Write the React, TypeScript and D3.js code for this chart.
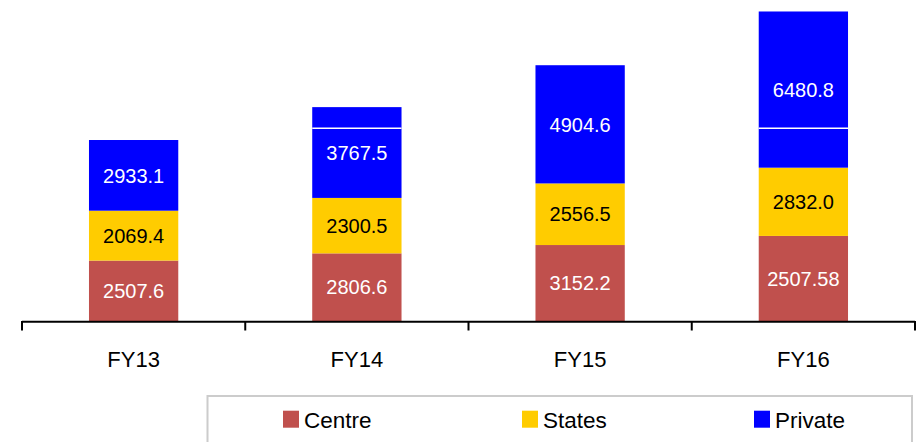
import React from "react";
import * as d3 from "d3";

const categories = ["FY13", "FY14", "FY15", "FY16"];
const centreValues = [2507.6, 2806.6, 3152.2, 3530];
const centreLabels = ["2507.6", "2806.6", "3152.2", "2507.58"];
const statesValues = [2069.4, 2300.5, 2556.5, 2832.0];
const statesLabels = ["2069.4", "2300.5", "2556.5", "2832.0"];
const privateValues = [2933.1, 3767.5, 4904.6, 6480.8];
const privateLabels = ["2933.1", "3767.5", "4904.6", "6480.8"];
// white divider line drawn inside some bars in the original
const dividerValues: (number | null)[] = [null, 8000, null, 8000];

const seriesNames = ["Centre", "States", "Private"];
const seriesColors = ["#C0504D", "#FFCC00", "#0000FF"];
const labelColors = ["#FFFFFF", "#000000", "#FFFFFF"];

const W = 917;
const H = 442;

export default function App() {
  const x = d3
    .scaleBand<string>()
    .domain(categories)
    .range([22, 915])
    .paddingInner(0.6)
    .paddingOuter(0.3);
  const y = d3.scaleLinear().domain([0, 13000]).range([321, 321 - 13000 * 0.0241]);

  const rows = categories.map((c, i) => ({
    cat: c,
    Centre: centreValues[i],
    States: statesValues[i],
    Private: privateValues[i],
  }));
  const stack = d3.stack<any>().keys(seriesNames)(rows);
  const labels = [centreLabels, statesLabels, privateLabels];

  const step = x.step();
  const axisStart = 22;
  const ticks = d3.range(categories.length + 1).map((i) => axisStart + i * step);

  const font = "'Liberation Sans', Arial, sans-serif";

  const legendX = [283, 522, 754];

  return (
    <svg
      width={W}
      height={H}
      style={{ position: "absolute", left: 0, top: 0, background: "#fff" }}
      fontFamily={font}
    >
      <rect x={0} y={0} width={W} height={H} fill="#fff" />
      {stack.map((s, si) => (
        <g key={si}>
          {s.map((d, i) => {
            const y0 = y(d[0]);
            const y1 = y(d[1]);
            const bx = x(categories[i])!;
            return (
              <g key={i}>
                <rect x={bx} y={y1} width={x.bandwidth()} height={y0 - y1} fill={seriesColors[si]} />
                <text
                  x={bx + x.bandwidth() / 2}
                  y={(y0 + y1) / 2}
                  dy="0.36em"
                  textAnchor="middle"
                  fontSize={20}
                  fill={labelColors[si]}
                >
                  {labels[si][i]}
                </text>
              </g>
            );
          })}
        </g>
      ))}
      {dividerValues.map((v, i) =>
        v === null ? null : (
          <line
            key={i}
            x1={x(categories[i])!}
            x2={x(categories[i])! + x.bandwidth()}
            y1={y(v)}
            y2={y(v)}
            stroke="#fff"
            strokeWidth={1.5}
          />
        )
      )}
      <line x1={axisStart} x2={915} y1={321.7} y2={321.7} stroke="#000" strokeWidth={2} />
      {ticks.map((t, i) => (
        <line key={i} x1={t} x2={t} y1={321} y2={330.5} stroke="#000" strokeWidth={2} />
      ))}
      {categories.map((c) => (
        <text
          key={c}
          x={x(c)! + x.bandwidth() / 2}
          y={366.5}
          textAnchor="middle"
          fontSize={22}
          fill="#000"
        >
          {c}
        </text>
      ))}
      <rect x={207.5} y={396} width={704.5} height={60} fill="#fff" stroke="#cccccc" strokeWidth={2} />
      {seriesNames.map((n, i) => (
        <g key={n}>
          <rect x={legendX[i]} y={410.7} width={16} height={17} fill={seriesColors[i]} />
          <text x={legendX[i] + 21} y={427.5} fontSize={22.5} fill="#000">
            {n}
          </text>
        </g>
      ))}
    </svg>
  );
}
